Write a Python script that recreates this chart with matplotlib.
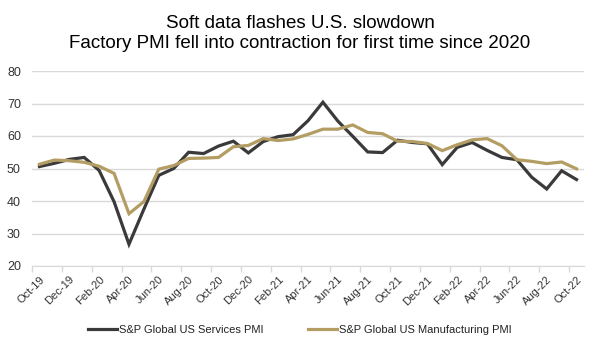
"""
Soft data flashes U.S. slowdown - S&P Global US PMIs, Oct-19 to Oct-22
"""

import numpy as np
from matplotlib import pyplot as plt

plt.rcParams['font.family'] = ['Liberation Sans', 'DejaVu Sans']

months = ["Oct-19", "Nov-19", "Dec-19", "Jan-20", "Feb-20", "Mar-20", "Apr-20", "May-20",
          "Jun-20", "Jul-20", "Aug-20", "Sep-20", "Oct-20", "Nov-20", "Dec-20", "Jan-21",
          "Feb-21", "Mar-21", "Apr-21", "May-21", "Jun-21", "Jul-21", "Aug-21", "Sep-21",
          "Oct-21", "Nov-21", "Dec-21", "Jan-22", "Feb-22", "Mar-22", "Apr-22", "May-22",
          "Jun-22", "Jul-22", "Aug-22", "Sep-22", "Oct-22"]

services = [50.6, 51.6, 52.8, 53.4, 49.4, 39.8, 26.7, 37.5, 47.9, 50.0, 55.0, 54.6,
            56.9, 58.4, 54.8, 58.3, 59.8, 60.4, 64.7, 70.4, 64.6, 59.9, 55.1, 54.9,
            58.7, 58.0, 57.6, 51.2, 56.5, 58.0, 55.6, 53.4, 52.7, 47.3, 43.7, 49.3, 46.6]

manufacturing = [51.3, 52.6, 52.4, 51.9, 50.7, 48.5, 36.1, 39.8, 49.8, 50.9, 53.1, 53.2,
                 53.4, 56.7, 57.1, 59.2, 58.6, 59.1, 60.5, 62.1, 62.1, 63.4, 61.1, 60.7,
                 58.4, 58.3, 57.7, 55.5, 57.3, 58.8, 59.2, 57.0, 52.7, 52.2, 51.5, 52.0, 49.9]

title = "Soft data flashes U.S. slowdown\nFactory PMI fell into contraction for first time since 2020"

dark = "#3a3a3a"
gold = "#b39d63"
grid = "#d9d9d9"
text_col = "#333333"


def main():
    x = np.arange(len(months))

    fig = plt.figure(figsize=(6.0, 3.49), dpi=100)
    ax = fig.add_axes([32 / 600, 1 - 266 / 349, 552 / 600, 195 / 349])

    ax.plot(x, services, color=dark, lw=2.3, label="S&P Global US Services PMI",
            solid_joinstyle='miter')
    ax.plot(x, manufacturing, color=gold, lw=2.3, label="S&P Global US Manufacturing PMI",
            solid_joinstyle='miter')

    ax.set_xlim(-0.5, len(months) - 0.5)
    ax.set_ylim(20, 80)
    ax.set_yticks(range(20, 81, 10))
    ax.yaxis.grid(True, color=grid, lw=1)
    ax.set_axisbelow(True)

    ax.set_xticks(x[::2])
    ax.set_xticklabels(months[::2], rotation=45, ha='right', rotation_mode='anchor')
    ax.set_xticks(np.arange(-0.5, len(months) - 1, 2), minor=True)
    ax.tick_params(axis='x', which='major', length=0, pad=6, labelsize=8, colors=text_col)
    ax.tick_params(axis='x', which='minor', length=4, color=grid, width=1)
    ax.tick_params(axis='y', length=0, pad=8, labelsize=9, colors=text_col)

    for s in ['top', 'right', 'left']:
        ax.spines[s].set_visible(False)
    ax.spines['bottom'].set_color(grid)

    fig.suptitle(title, fontsize=13.5, y=0.957, color="#000000", linespacing=1.2)

    fig.legend(loc='center', bbox_to_anchor=(0.5, 0.055), ncol=2, frameon=False,
               fontsize=8, handlelength=2.6, columnspacing=4.0, handletextpad=0.2,
               labelcolor="#222222")

    plt.savefig("out.png", dpi=100)


if __name__ == "__main__":
    main()
